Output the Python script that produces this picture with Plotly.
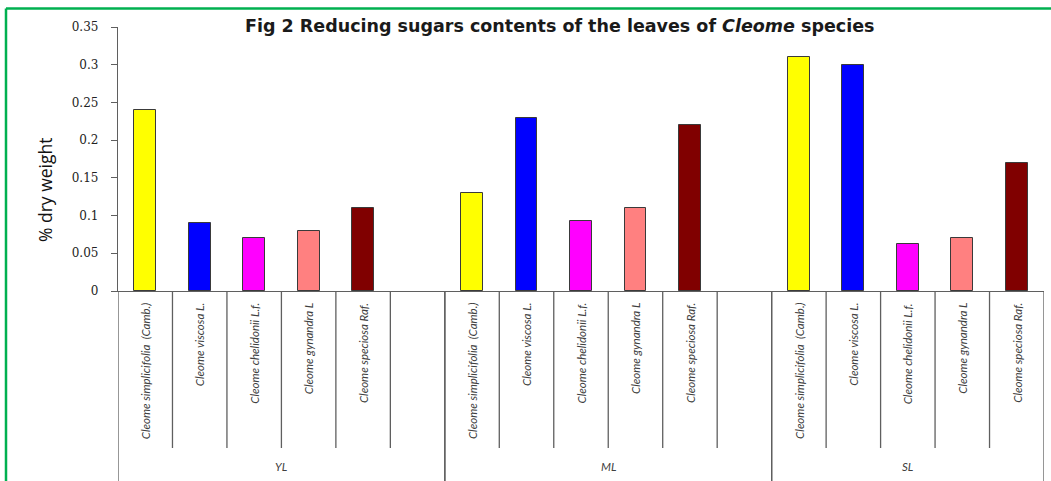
import plotly.graph_objects as go

# ---------------- data ----------------
groups = ["YL", "ML", "SL"]
species = [
    "Cleome simplicifolia  (Camb.)",
    "Cleome viscosa L.",
    "Cleome chelidonii L.f.",
    "Cleome gynandra L",
    "Cleome speciosa Raf.",
]
yl_values = [0.24, 0.09, 0.07, 0.08, 0.11]
ml_values = [0.13, 0.23, 0.093, 0.11, 0.22]
sl_values = [0.31, 0.30, 0.062, 0.07, 0.17]
group_values = [yl_values, ml_values, sl_values]
# number of category slots per group (YL and ML have an empty trailing slot)
group_slots = [6, 6, 5]
bar_colors = ["#FFFF00", "#0000FF", "#FF00FF", "#FF8080", "#800000"]
y_tickvals = [0, 0.05, 0.1, 0.15, 0.2, 0.25, 0.3, 0.35]
y_ticktext = ["0", "0.05", "0.1", "0.15", "0.2", "0.25", "0.3", "0.35"]

# ---------------- geometry ----------------
W, H = 1051, 481
ML_, MR_, MT_, MB_ = 118, 7, 27, 190
PW = W - ML_ - MR_
PH = H - MT_ - MB_
def px_x(px):
    return (px - ML_) / PW
def px_y(py):
    return (H - MB_ - py) / PH

axis_col = "#5f5f5f"
fig = go.Figure()

starts = []
s = 0
for n in group_slots:
    starts.append(s)
    s += n
total_slots = s

# bars
for g, vals in enumerate(group_values):
    xs = [starts[g] + i for i in range(len(vals))]
    fig.add_trace(go.Bar(
        x=xs, y=vals, width=0.4,
        marker=dict(color=bar_colors[:len(vals)], line=dict(color="#3a3a3a", width=1)),
        showlegend=False, hoverinfo="skip",
    ))

shapes = []
annotations = []
# slot dividers (short) and group dividers (long)
for g, n in enumerate(group_slots):
    for k in range(n + 1):
        xb = starts[g] + k - 0.5
        is_group_edge = (k == 0 or k == n)
        y_end = -0.80 if is_group_edge else px_y(448)
        shapes.append(dict(type="line", xref="x", yref="paper",
                           x0=xb, x1=xb, y0=0, y1=y_end,
                           line=dict(color=axis_col, width=1.3)))
    # species labels
    for i in range(len(group_values[g])):
        annotations.append(dict(
            x=starts[g] + i, y=px_y(301), xref="x", yref="paper",
            text="<i>" + species[i] + "</i>", textangle=-90,
            showarrow=False, xanchor="center", yanchor="top",
            font=dict(family="Lato", size=11.5, color="#404040"),
        ))
    # group labels
    annotations.append(dict(
        x=starts[g] + (n - 1) / 2, y=px_y(467), xref="x", yref="paper",
        text="<i>" + groups[g] + "</i>", showarrow=False,
        xanchor="center", yanchor="middle",
        font=dict(family="Lato", size=11.5, color="#404040"),
    ))

# green frame (top and left)
green = "#00B050"
shapes.append(dict(type="line", xref="paper", yref="paper",
                   x0=px_x(6), x1=px_x(1060), y0=px_y(8.5), y1=px_y(8.5),
                   line=dict(color=green, width=2.5)))
shapes.append(dict(type="line", xref="paper", yref="paper",
                   x0=px_x(6), x1=px_x(6), y0=px_y(8.5), y1=px_y(490),
                   line=dict(color=green, width=2.5)))

# title and y-axis title
annotations.append(dict(
    x=px_x(560), y=px_y(26), xref="paper", yref="paper",
    text="<b>Fig 2 Reducing sugars contents of the leaves of <i>Cleome</i> species</b>",
    showarrow=False, xanchor="center", yanchor="middle",
    font=dict(family="DejaVu Sans", size=17.5, color="#1a1a1a"),
))
annotations.append(dict(
    x=px_x(45), y=px_y(190), xref="paper", yref="paper",
    text="% dry weight", textangle=-90,
    showarrow=False, xanchor="center", yanchor="middle",
    font=dict(family="Open Sans", size=17.5, color="#111111"),
))

fig.update_layout(
    width=W, height=H,
    margin=dict(l=ML_, r=MR_, t=MT_, b=MB_, autoexpand=False),
    paper_bgcolor="white", plot_bgcolor="white",
    shapes=shapes, annotations=annotations,
    bargap=0,
)
fig.update_xaxes(range=[-0.5, total_slots - 0.5], showticklabels=False,
                 showgrid=False, zeroline=False, showline=True,
                 linecolor=axis_col, linewidth=1.3, ticks="")
fig.update_yaxes(range=[0, 0.35], tickvals=y_tickvals, ticktext=y_ticktext,
                 showgrid=False, zeroline=False, showline=True,
                 linecolor=axis_col, linewidth=1.3, ticks="outside",
                 ticklen=6, tickcolor=axis_col, tickwidth=1.3,
                 ticklabelstandoff=10,
                 tickfont=dict(family="DejaVu Serif, Liberation Serif, serif",
                               size=12, color="#222222"))

fig.write_html("out.html")
